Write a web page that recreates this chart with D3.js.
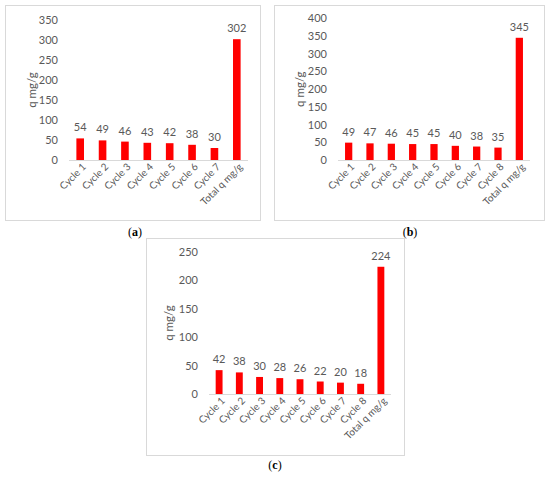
<!DOCTYPE html>
<html>
<head>
<meta charset="utf-8">
<script src="https://cdn.jsdelivr.net/npm/d3@7"></script>
<style>
  body { margin: 0; background: #fff; }
  svg { display: block; }
  text { font-family: Lato, "Liberation Sans", sans-serif; fill: #595959; }
</style>
</head>
<body>
<div id="chart"></div>
<script>
// data
var catsA = ["Cycle 1", "Cycle 2", "Cycle 3", "Cycle 4", "Cycle 5", "Cycle 6", "Cycle 7", "Total q mg/g"];
var valsA = [54, 49, 46, 43, 42, 38, 30, 302];
var catsB = ["Cycle 1", "Cycle 2", "Cycle 3", "Cycle 4", "Cycle 5", "Cycle 6", "Cycle 7", "Cycle 8", "Total q mg/g"];
var valsB = [49, 47, 46, 45, 45, 40, 38, 35, 345];
var catsC = ["Cycle 1", "Cycle 2", "Cycle 3", "Cycle 4", "Cycle 5", "Cycle 6", "Cycle 7", "Cycle 8", "Total q mg/g"];
var valsC = [42, 38, 30, 28, 26, 22, 20, 18, 224];
var ticksA = [0, 50, 100, 150, 200, 250, 300, 350];
var ticksB = [0, 50, 100, 150, 200, 250, 300, 350, 400];
var ticksC = [0, 50, 100, 150, 200, 250];
var yTitle = "q mg/g";

const svg = d3.select("#chart")
  .append("svg")
  .attr("width", 550)
  .attr("height", 477);

function drawPanel(cats, vals, ticks, box, plot, caption){
  // frame
  svg.append("rect")
    .attr("x", box.x + 0.5)
    .attr("y", box.y + 0.5)
    .attr("width", box.w)
    .attr("height", box.h)
    .attr("fill", "#fff")
    .attr("stroke", "#d9d9d9")
    .attr("stroke-width", 1);

  const x = d3.scaleBand()
    .domain(cats)
    .range([plot.x0, plot.x1]);

  const y = d3.scaleLinear()
    .domain([0, d3.max(ticks)])
    .range([plot.y0, plot.y1]);

  const g = svg.append("g");

  // y axis, no line, just labels
  const yAxis = g.append("g")
    .attr("transform", `translate(${plot.x0},0)`)
    .call(d3.axisLeft(y).tickValues(ticks).tickSize(0).tickPadding(plot.x0 - plot.labelRight));
  yAxis.select(".domain").remove();
  yAxis.selectAll("text")
    .attr("font-size", 11)
    .style("font-family", "Lato, sans-serif")
    .attr("fill", "#595959");

  // bars
  const bw = x.bandwidth() * 0.34;
  g.selectAll("rect.bar")
    .data(vals)
    .join("rect")
    .attr("class", "bar")
    .attr("x", (d, i) => x(cats[i]) + x.bandwidth() / 2 - bw / 2)
    .attr("width", bw)
    .attr("y", d => y(d))
    .attr("height", d => plot.y0 - y(d))
    .attr("fill", "#ff0000");

  // baseline
  g.append("line")
    .attr("x1", plot.x0)
    .attr("x2", plot.x1)
    .attr("y1", plot.y0 + 0.5)
    .attr("y2", plot.y0 + 0.5)
    .attr("stroke", "#d9d9d9");

  // value labels
  g.selectAll("text.val")
    .data(vals)
    .join("text")
    .attr("class", "val")
    .attr("x", (d, i) => x(cats[i]) + x.bandwidth() / 2)
    .attr("y", d => y(d) - 7)
    .attr("text-anchor", "middle")
    .attr("font-size", 11)
    .text(d => d);

  // category labels, slanted
  g.selectAll("text.cat")
    .data(cats)
    .join("text")
    .attr("class", "cat")
    .attr("text-anchor", "end")
    .attr("font-size", 10)
    .attr("transform", d => `translate(${x(d) + x.bandwidth() / 2 + 4},${plot.y0 + 5}) rotate(-45)`)
    .attr("dy", "0.35em")
    .text(d => d);

  // y title
  g.append("text")
    .attr("transform", `translate(${plot.titleX},${(plot.y0 + plot.y1) / 2}) rotate(-90)`)
    .attr("text-anchor", "middle")
    .attr("dy", "0.35em")
    .attr("font-size", 11.5)
    .text(yTitle);

  // caption under the frame
  const cap = svg.append("text")
    .attr("x", caption.x)
    .attr("y", caption.y)
    .attr("text-anchor", "middle")
    .attr("font-size", 12)
    .style("font-family", "'Liberation Serif', 'DejaVu Serif', serif")
    .style("fill", "#000");
  cap.append("tspan").text("(");
  cap.append("tspan").attr("font-weight", "bold").text(caption.letter);
  cap.append("tspan").text(")");
}

drawPanel(catsA, valsA, ticksA,
  {x: 5, y: 5, w: 255, h: 215},
  {x0: 69, x1: 248, y0: 160, y1: 20, labelRight: 58, titleX: 32},
  {x: 135, y: 236, letter: "a"});

drawPanel(catsB, valsB, ticksB,
  {x: 274, y: 5, w: 270, h: 215},
  {x0: 338, x1: 530, y0: 160, y1: 18.3, labelRight: 327, titleX: 300},
  {x: 410, y: 236, letter: "b"});

drawPanel(catsC, valsC, ticksC,
  {x: 146, y: 238, w: 258, h: 217},
  {x0: 209, x1: 391, y0: 394, y1: 252, labelRight: 198, titleX: 169},
  {x: 275, y: 469, letter: "c"});
</script>
</body>
</html>
